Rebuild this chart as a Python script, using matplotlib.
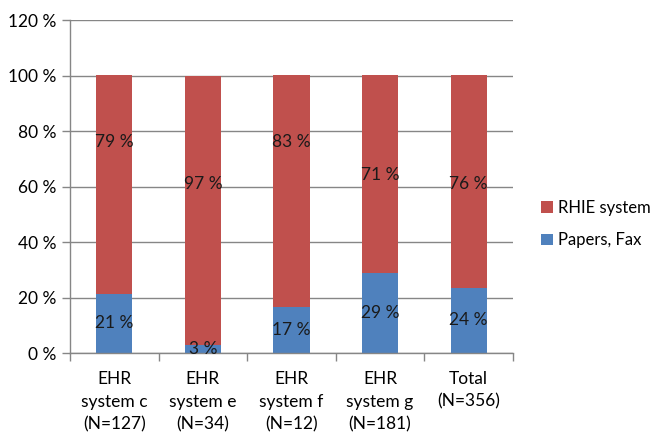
import matplotlib.pyplot as plt
import numpy as np
from matplotlib.ticker import FixedLocator

plt.rcParams['font.family'] = ['Lato', 'DejaVu Sans']

categories = ['EHR\nsystem c\n(N=127)', 'EHR\nsystem e\n(N=34)', 'EHR\nsystem f\n(N=12)',
              'EHR\nsystem g\n(N=181)', 'Total\n(N=356)']
papers_fax = [21.3, 2.9, 16.7, 28.7, 23.6]
rhie = [78.7, 97.1, 83.3, 71.3, 76.4]
papers_labels = ['21 %', '3 %', '17 %', '29 %', '24 %']
rhie_labels = ['79 %', '97 %', '83 %', '71 %', '76 %']
# heights where Excel placed the RHIE labels
rhie_label_pos = [76, 61, 76, 64, 61]

blue = '#4F81BD'
red = '#C0504D'
grey = '#868686'

fig = plt.figure(figsize=(6.51, 4.36), dpi=100)
ax = fig.add_axes([70/651, 1 - 353/436, 443/651, 333/436])

x = np.arange(len(categories))
width = 0.41
ax.bar(x, papers_fax, width, color=blue, label='Papers, Fax', zorder=2)
ax.bar(x, rhie, width, bottom=papers_fax, color=red, label='RHIE system', zorder=2)

for i in range(len(x)):
    ax.text(x[i], papers_fax[i] / 2, papers_labels[i], ha='center', va='center',
            fontsize=12.5, color='#1a1a1a', zorder=3)
    ax.text(x[i], rhie_label_pos[i], rhie_labels[i], ha='center', va='center',
            fontsize=12.5, color='#1a1a1a', zorder=3)

ax.set_xlim(-0.5, len(x) - 0.5)
ax.set_ylim(0, 120)
ax.set_yticks(np.arange(0, 121, 20))
ax.set_yticklabels([f'{v} %' for v in range(0, 121, 20)], fontsize=12.5)
ax.yaxis.grid(True, color=grey, linewidth=1, zorder=0)
ax.set_xticks(x)
ax.set_xticklabels(categories, fontsize=12.5, linespacing=1.5)
ax.xaxis.set_minor_locator(FixedLocator(np.arange(-0.5, len(x), 1)))
ax.tick_params(axis='x', which='major', length=0, pad=13)
ax.tick_params(axis='x', which='minor', length=6, color=grey, width=1)
ax.tick_params(axis='y', length=6, color=grey, width=1, pad=4)

for s in ['top', 'right']:
    ax.spines[s].set_visible(False)
for s in ['left', 'bottom']:
    ax.spines[s].set_color(grey)
    ax.spines[s].set_linewidth(1)

handles, labels = ax.get_legend_handles_labels()
fig.legend(handles[::-1], labels[::-1], loc='center left', bbox_to_anchor=(541/651, 1 - 224/436),
           frameon=False, fontsize=12, handlelength=0.7, handleheight=0.7,
           handletextpad=0.35, labelspacing=1.0, borderpad=0, borderaxespad=0)

fig.savefig('out.png', dpi=100)
